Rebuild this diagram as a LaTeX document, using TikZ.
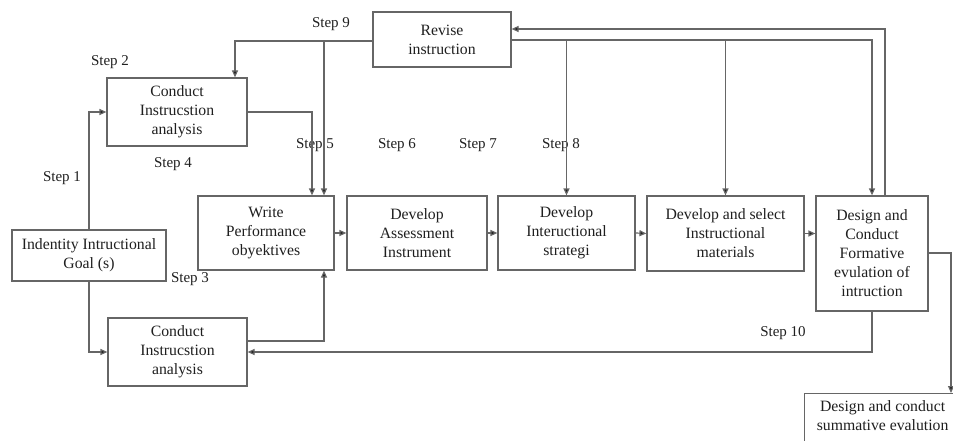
\documentclass[tikz,border=0pt]{standalone}
\usepackage{fontspec}
\setmainfont{Liberation Serif}
\newfontfamily\diagfont{Liberation Serif}[Scale=1.05]
\usetikzlibrary{arrows.meta,calc}

\definecolor{edge}{gray}{0.40}
\definecolor{ink}{gray}{0.12}

\tikzset{
  box/.style={draw=edge, line width=1.2pt, align=center, inner sep=2pt,
              text=ink, font=\fontsize{15}{19}\diagfont},
  link/.style={draw=edge, line width=1.2pt,
               -{Triangle[length=7pt,width=6pt,fill=ink]}},
  steplabel/.style={text=ink, font=\fontsize{15}{18}\selectfont, inner sep=0pt}
}

\begin{document}
\begin{tikzpicture}[x=1pt,y=-1pt]
\useasboundingbox (0,0) rectangle (953,441);

% boxes
\node[box, minimum width=138pt, minimum height=55pt] (revise) at (442,39.5) {Revise\\instruction};
\node[box, minimum width=140pt, minimum height=68pt] (caA) at (177,112) {Conduct\\Instrucstion\\analysis};
\node[box, minimum width=154pt, minimum height=51pt] (goal) at (89,255.5) {Indentity Intructional\\Goal (s)};
\node[box, minimum width=139pt, minimum height=68pt] (caB) at (177.5,352) {Conduct\\Instrucstion\\analysis};
\node[box, minimum width=136pt, minimum height=74pt] (write) at (266,233) {Write\\Performance\\obyektives};
\node[box, minimum width=140pt, minimum height=74pt] (assess) at (417,233) {Develop\\Assessment\\Instrument};
\node[box, minimum width=137pt, minimum height=74pt] (strat) at (566.5,233) {Develop\\Inteructional\\strategi};
\node[box, minimum width=157pt, minimum height=75pt] (mat) at (725.5,233.5) {Develop and select\\Instructional\\materials};
\node[box, minimum width=112pt, minimum height=115pt] (form) at (872,253.5) {Design and\\Conduct\\Formative\\evulation of\\intruction};
\node[box, minimum width=156pt, minimum height=58pt, anchor=north west, text depth=14pt] (summ) at (804,393) {Design and conduct\\summative evalution};

% step labels
\node[steplabel] (s1) at (62,178) {Step 1};
\node[steplabel] (s2) at (110,62) {Step 2};
\node[steplabel] (s3) at (190,279) {Step 3};
\node[steplabel] (s4) at (173,164) {Step 4};
\node[steplabel] (s5) at (315,145) {Step 5};
\node[steplabel] (s6) at (397,145) {Step 6};
\node[steplabel] (s7) at (478,145) {Step 7};
\node[steplabel] (s8) at (561,145) {Step 8};
\node[steplabel] (s9) at (331,24) {Step 9};
\node[steplabel] (s10) at (783,333) {Step 10};

% goal to both analyses
\draw[link] (goal.north) |- (caA.west);
\draw[link] (goal.south) |- (caB.west);

% analyses to performance objectives
\draw[link] (caA.east) -| ([xshift=46pt]write.north);
\draw[link] ([yshift=11pt]caB.east) -| ([xshift=58pt]write.south);

% main row
\draw[link] (write.east) -- (assess.west);
\draw[link] (assess.east) -- (strat.west);
\draw[link] (strat.east) -- (mat.west);
\draw[link] (mat.east) -- (mat.east -| form.west);

% revision loop
\coordinate (rw) at ([yshift=-1.5pt]revise.west);
\draw[link] (rw) -| ([xshift=58pt]caA.north);
\draw[link] ([xshift=58pt]write.north |- rw) -- ([xshift=58pt]write.north);
\draw[link] ([yshift=-0.5pt]revise.east) -| (form.north);
\draw[link] (strat.north |- revise.east) -- (strat.north);
\draw[link] (mat.north |- revise.east) -- (mat.north);
\draw[link] ([xshift=13pt]form.north) |- ([yshift=10.5pt]revise.east);

% formative evaluation back to analysis and on to summative
\draw[link] (form.south) |- (caB.east);
\coordinate (sr) at (951,253);
\draw[link] (form.east |- sr) -- (sr) -- (sr |- summ.north);
\end{tikzpicture}
\end{document}
